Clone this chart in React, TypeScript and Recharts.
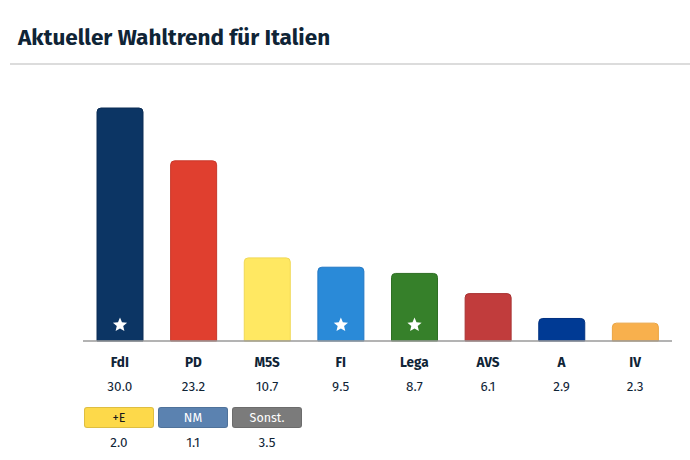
import React from "react";
import { BarChart, Bar, XAxis, YAxis, Cell, Rectangle } from "recharts";

const parties = ["FdI", "PD", "M5S", "FI", "Lega", "AVS", "A", "IV"];
const values = [30.0, 23.2, 10.7, 9.5, 8.7, 6.1, 2.9, 2.3];
const colors = ["#0c3564", "#e03f2f", "#ffe862", "#2a8ad8", "#36802a", "#c13c3c", "#003a94", "#f8b04d"];
const borders = ["#0a2c54", "#c9372a", "#f0d855", "#2277c4", "#2e6f24", "#a83333", "#003080", "#eaa443"];
const starred = ["FdI", "FI", "Lega"];

const others = ["+E", "NM", "Sonst."];
const otherValues = [2.0, 1.1, 3.5];
const otherColors = ["#fdd94a", "#5b82b0", "#7b7b7b"];
const otherText = ["#1a1a1a", "#ffffff", "#ffffff"];

const FONT = "'Fira Sans', 'Noto Sans', 'Open Sans', sans-serif";
const DARK = "#0f2436";

const data = parties.map((name, i) => ({
  name,
  value: values[i],
  star: starred.includes(name),
}));

const starPath = (cx: number, cy: number, r: number) => {
  const pts: string[] = [];
  for (let i = 0; i < 10; i++) {
    const rad = i % 2 === 0 ? r : r * 0.45;
    const a = -Math.PI / 2 + (i * Math.PI) / 5;
    pts.push(`${(cx + rad * Math.cos(a)).toFixed(2)},${(cy + rad * Math.sin(a)).toFixed(2)}`);
  }
  return `M${pts.join("L")}Z`;
};

const BarShape = (props: any) => {
  const { x, y, width, height, payload, index } = props;
  return (
    <g>
      <Rectangle
        x={x}
        y={y}
        width={width}
        height={height}
        radius={[4, 4, 0, 0]}
        fill={colors[index]}
        stroke={borders[index]}
        strokeWidth={1}
      />
      {payload.star && (
        <path d={starPath(x + width / 2, y + height - 16, 7.5)} fill="#ffffff" />
      )}
    </g>
  );
};

const PartyTick = (props: any) => {
  const { x, y, payload } = props;
  const i = parties.indexOf(payload.value);
  return (
    <g>
      <text x={x} y={y + 18} textAnchor="middle" fontFamily={FONT} fontSize={13.5} fontWeight={700} fill={DARK}>
        {payload.value}
      </text>
      <text x={x} y={y + 42} textAnchor="middle" fontFamily={FONT} fontSize={13.5} fill={DARK}>
        {values[i].toFixed(1)}
      </text>
    </g>
  );
};

export default function App() {
  return (
    <div style={{ position: "absolute", left: 0, top: 0, width: 690, height: 460, background: "#fff", fontFamily: FONT }}>
      <div
        style={{
          position: "absolute",
          left: 18,
          top: 24,
          fontSize: 22.5,
          fontWeight: 700,
          color: DARK,
          whiteSpace: "nowrap",
        }}
      >
        Aktueller Wahltrend für Italien
      </div>
      <div style={{ position: "absolute", left: 10, top: 63, width: 680, height: 2, background: "#dcdcdc" }} />
      <div style={{ position: "absolute", left: 0, top: 0 }}>
        <BarChart width={690} height={460} data={data} margin={{ top: 108, right: 18, bottom: 89, left: 83 }} barSize={46}>
          <YAxis hide domain={[0, 30]} />
          <XAxis
            dataKey="name"
            height={30}
            axisLine={{ stroke: "#9a9a9a", strokeWidth: 1.5 }}
            tickLine={false}
            tick={<PartyTick />}
            interval={0}
          />
          <Bar dataKey="value" shape={<BarShape />} isAnimationActive={false}>
            {data.map((d, i) => (
              <Cell key={d.name} fill={colors[i]} />
            ))}
          </Bar>
        </BarChart>
      </div>
      {others.map((name, i) => (
        <React.Fragment key={name}>
          <div
            style={{
              position: "absolute",
              left: 84 + i * 74,
              top: 407,
              width: 70,
              height: 21,
              boxSizing: "border-box",
              borderRadius: 3,
              background: otherColors[i],
              border: "1px solid rgba(0,0,0,0.12)",
              color: otherText[i],
              fontSize: 12.5,
              lineHeight: "19px",
              textAlign: "center",
            }}
          >
            {name}
          </div>
          <div
            style={{
              position: "absolute",
              left: 84 + i * 74,
              top: 434,
              width: 70,
              textAlign: "center",
              fontSize: 13.5,
              color: DARK,
            }}
          >
            {otherValues[i].toFixed(1)}
          </div>
        </React.Fragment>
      ))}
    </div>
  );
}
